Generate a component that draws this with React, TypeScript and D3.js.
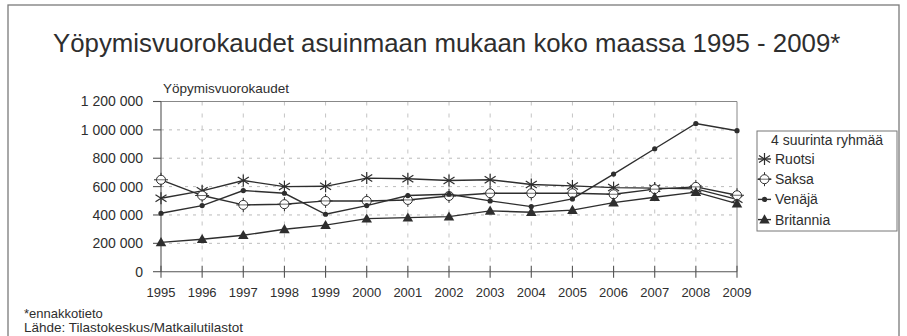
import * as d3 from 'd3';

// vuodet ja sarjat (arvot luettu kuvasta)
const years = [1995, 1996, 1997, 1998, 1999, 2000, 2001, 2002, 2003, 2004, 2005, 2006, 2007, 2008, 2009];
const ruotsi = [518000, 570000, 643000, 600000, 602000, 660000, 655000, 643000, 648000, 615000, 605000, 593000, 589000, 584000, 510000];
const saksa = [648000, 537000, 471000, 476000, 499000, 499000, 506000, 534000, 553000, 553000, 553000, 546000, 582000, 598000, 539000];
const venaja = [412000, 466000, 572000, 553000, 405000, 466000, 537000, 546000, 499000, 459000, 513000, 688000, 867000, 1045000, 994000];
const britannia = [207000, 229000, 257000, 299000, 328000, 374000, 381000, 388000, 429000, 419000, 434000, 487000, 525000, 561000, 480000];
const yTicks = [0, 200000, 400000, 600000, 800000, 1000000, 1200000];

const seriesNames = ['Ruotsi', 'Saksa', 'Venäjä', 'Britannia'];
const seriesValues = [ruotsi, saksa, venaja, britannia];

const width = 907;
const height = 336;
const margin = { top: 101.5, right: 170, bottom: 64.3, left: 161 };
const ink = '#2e2e2e';
const font = 'Liberation Sans, Arial, Helvetica, sans-serif';

const fmt = d3.formatLocale({ decimal: ',', thousands: ' ', grouping: [3], currency: ['', ''] }).format(',');

const Marker = ({ kind, x, y }: { kind: string; x: number; y: number }) => {
  if (kind === 'Ruotsi') {
    return (
      <g transform={`translate(${x},${y})`} stroke={ink} strokeWidth={1.2}>
        <line x1={0} y1={-6} x2={0} y2={6} />
        <line x1={-5.5} y1={-3.5} x2={5.5} y2={3.5} />
        <line x1={-5.5} y1={3.5} x2={5.5} y2={-3.5} />
      </g>
    );
  }
  if (kind === 'Saksa') {
    return (
      <g transform={`translate(${x},${y})`} stroke={ink} strokeWidth={1}>
        <line x1={0} y1={-7} x2={0} y2={7} />
        <line x1={-7} y1={0} x2={7} y2={0} />
        <circle r={4.5} fill="#fff" />
        <line x1={-4.5} y1={0} x2={4.5} y2={0} strokeWidth={0.7} />
      </g>
    );
  }
  if (kind === 'Venäjä') {
    return <circle cx={x} cy={y} r={2.6} fill={ink} />;
  }
  const t = d3.symbol(d3.symbolTriangle, 48)() || '';
  return <path d={t} transform={`translate(${x},${y + 0.8})`} fill={ink} />;
};

export default function App() {
  const x = d3.scalePoint<number>()
    .domain(years)
    .range([margin.left, width - margin.right]);

  const y = d3.scaleLinear()
    .domain([0, 1200000])
    .range([height - margin.bottom, margin.top]);

  const line = d3.line<number>()
    .x((_, i) => x(years[i]) || 0)
    .y(d => y(d));

  const x0 = x.range()[0];
  const x1 = x.range()[1];
  const y0 = y(0);
  const yTop = y(1200000);

  return (
    <svg width={width} height={height} style={{ position: 'absolute', left: 0, top: 0, background: '#fff' }} fontFamily={font}>
      <rect x={8} y={5} width={891} height={340} fill="none" stroke="#7a7a7a" strokeWidth={1.3} />

      <text x={53} y={52} fontSize={25.8} fill={ink}>
        Yöpymisvuorokaudet asuinmaan mukaan koko maassa 1995 - 2009*
      </text>

      <text x={163} y={93} fontSize={13.5} fill={ink}>Yöpymisvuorokaudet</text>

      {/* ruudukko */}
      {yTicks.slice(1, -1).map(t => (
        <line key={'h' + t} x1={x0} x2={x1} y1={y(t)} y2={y(t)} stroke="#aaa" strokeWidth={0.8} strokeDasharray="3,5" />
      ))}
      {years.slice(1, -1).map(yr => (
        <line key={'v' + yr} x1={x(yr)} x2={x(yr)} y1={yTop} y2={y0} stroke="#b5b5b5" strokeWidth={0.8} strokeDasharray="4,8" />
      ))}

      {/* kehys */}
      <line x1={x0} x2={x1} y1={yTop} y2={yTop} stroke="#888" strokeWidth={1} />
      <line x1={x1} x2={x1} y1={yTop} y2={y0} stroke="#888" strokeWidth={1} />

      {/* y-akseli */}
      <line x1={x0} x2={x0} y1={yTop} y2={y0} stroke="#555" strokeWidth={1.1} />
      {yTicks.map(t => (
        <g key={'yt' + t}>
          <line x1={x0 - 8} x2={x0} y1={y(t)} y2={y(t)} stroke="#555" strokeWidth={1.1} />
          <text x={143} y={y(t)} dy="0.35em" textAnchor="end" fontSize={14} fill={ink}>{fmt(t)}</text>
        </g>
      ))}

      {/* x-akseli */}
      <line x1={x0} x2={x1} y1={y0} y2={y0} stroke="#555" strokeWidth={1.1} />
      {years.map(yr => (
        <g key={'xt' + yr}>
          <line x1={x(yr)} x2={x(yr)} y1={y0 - 6} y2={y0 + 6} stroke="#555" strokeWidth={1.1} />
          <text x={x(yr)} y={297} textAnchor="middle" fontSize={13} fill={ink}>{yr}</text>
        </g>
      ))}

      {/* sarjat */}
      {seriesValues.map((vals, si) => (
        <g key={seriesNames[si]}>
          <path d={line(vals) || ''} fill="none" stroke={ink} strokeWidth={1.4} />
          {vals.map((v, i) => (
            <Marker key={i} kind={seriesNames[si]} x={x(years[i]) || 0} y={y(v)} />
          ))}
        </g>
      ))}

      {/* selite */}
      <rect x={757} y={131} width={140} height={100} fill="#fff" stroke="#777" strokeWidth={1} />
      <text x={827} y={145} textAnchor="middle" fontSize={14} fill={ink}>4 suurinta ryhmää</text>
      {seriesNames.map((name, i) => {
        const by = 164 + i * 20.2;
        return (
          <g key={'lg' + name}>
            <line x1={758} x2={771} y1={by - 5} y2={by - 5} stroke={ink} strokeWidth={1.4} />
            <Marker kind={name} x={764.5} y={by - 5} />
            <text x={775} y={by} fontSize={14} fill={ink}>{name}</text>
          </g>
        );
      })}

      <text x={24} y={318} fontSize={13} fill={ink}>*ennakkotieto</text>
      <text x={24} y={332} fontSize={13.5} fill={ink}>Lähde: Tilastokeskus/Matkailutilastot</text>
    </svg>
  );
}
